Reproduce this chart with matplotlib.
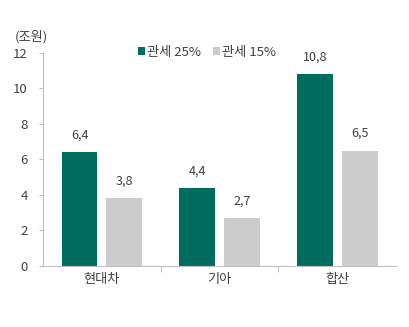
import numpy as np
import matplotlib.pyplot as plt

plt.rcParams['font.family'] = ['Noto Sans CJK KR', 'DejaVu Sans']

categories = ['현대차', '기아', '합산']
tariff25 = [6.4, 4.4, 10.8]
tariff15 = [3.8, 2.7, 6.5]
series_names = ['관세 25%', '관세 15%']
yticks = [0, 2, 4, 6, 8, 10, 12]

green = '#006b5f'
gray = '#cccccc'
axis_col = '#bfbfbf'
txt = '#404040'

fig = plt.figure(figsize=(4.1, 3.27), dpi=100)
ax = fig.add_axes([0.105, 0.187, 0.861, 0.651])

x = np.arange(len(categories))
w = 0.305
off = 0.19
b1 = ax.bar(x - off, tariff25, w, color=green, label=series_names[0])
b2 = ax.bar(x + off, tariff15, w, color=gray, label=series_names[1])

for bars, vals in ((b1, tariff25), (b2, tariff15)):
    for r, v in zip(bars, vals):
        ax.text(r.get_x() + r.get_width() / 2, v + 0.6, f'{v:.1f}'.replace('.', ','),
                ha='center', va='bottom', fontsize=9, color=txt)

ax.set_xlim(-0.5, len(categories) - 0.5)
ax.set_ylim(0, 12)
ax.set_yticks(yticks)
ax.set_yticklabels([str(t) for t in yticks], fontsize=9.5, color=txt)
ax.set_xticks(x)
ax.set_xticklabels(categories, fontsize=9.5, color=txt)
ax.tick_params(axis='x', length=0, pad=5)
ax.set_xticks([0.5, 1.5], minor=True)
ax.tick_params(axis='x', which='minor', length=4, color=axis_col, direction='out')
ax.tick_params(axis='y', length=3, color=axis_col, pad=8)

for s in ['top', 'right']:
    ax.spines[s].set_visible(False)
ax.spines['left'].set_color(axis_col)
ax.spines['bottom'].set_color(axis_col)

ax.legend(loc='upper center', bbox_to_anchor=(0.465, 1.09), ncol=2, frameon=False,
          fontsize=9.5, handlelength=0.5, handleheight=0.5, handletextpad=0.2,
          columnspacing=0.9, labelcolor=txt)

fig.text(0.037, 0.875, '(조원)', fontsize=9.5, color=txt)

fig.savefig('out.png', dpi=100)
